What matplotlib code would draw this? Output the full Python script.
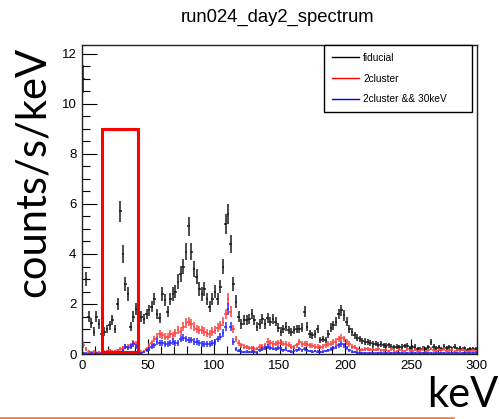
import numpy as np
import matplotlib
matplotlib.use("Agg")
import matplotlib.pyplot as plt
from matplotlib.patches import Rectangle
from matplotlib.lines import Line2D

# ---------------- data (2 keV bins, 0-300 keV) ----------------
bin_width = 2.0
kev = np.arange(1, 300, 2)  # bin centers

fiducial = [
    11.0, 3.0, 1.5, 1.25, 0.9, 1.5, 1.2, 0.8, 0.9, 1.0,
    1.15, 1.35, 1.0, 2.0, 5.7, 4.0, 2.8, 2.4, 1.1, 1.5,
    1.8, 1.55, 1.5, 1.4, 1.6, 1.75, 1.9, 2.2, 1.6, 1.45,
    2.4, 2.15, 1.7, 2.2, 2.4, 2.5, 2.9, 3.2, 3.5, 4.1,
    5.1, 4.1, 3.4, 3.1, 2.6, 2.4, 2.6, 2.2, 1.9, 2.2,
    2.5, 2.2, 2.7, 3.5, 5.2, 5.6, 4.4, 2.8, 2.1, 1.5,
    1.2, 1.35, 1.35, 1.4, 1.6, 1.35, 1.1, 1.2, 1.4, 1.2,
    1.45, 1.3, 1.4, 1.3, 1.05, 0.9, 1.0, 1.1, 0.95, 0.88,
    0.95, 1.0, 1.0, 1.05, 1.7, 1.1, 0.8, 0.75, 0.8, 1.0,
    0.55, 0.6, 0.55, 0.8, 1.05, 1.15, 1.3, 1.6, 1.75, 1.55,
    1.3, 1.0, 0.88, 0.75, 0.65, 0.6, 0.53, 0.5, 0.47, 0.45,
    0.4, 0.42, 0.38, 0.4, 0.35, 0.33, 0.35, 0.3, 0.27, 0.3,
    0.27, 0.3, 0.32, 0.33, 0.25, 0.27, 0.3, 0.22, 0.2, 0.25,
    0.22, 0.27, 0.47, 0.3, 0.25, 0.27, 0.2, 0.3, 0.25, 0.27,
    0.22, 0.3, 0.2, 0.25, 0.2, 0.22, 0.18, 0.2, 0.22, 0.2,
]

cluster2 = [
    0.36, 0.2, 0.1, 0.08, 0.1, 0.06, 0.08, 0.05, 0.1, 0.12,
    0.15, 0.1, 0.12, 0.15, 0.2, 0.25, 0.3, 0.3, 0.35, 0.45,
    0.4, 0.15, 0.1, 0.12, 0.2, 0.35, 0.45, 0.6, 0.7, 0.8,
    0.75, 0.7, 0.7, 0.8, 0.75, 0.85, 0.95, 0.9, 1.1, 1.25,
    1.3, 1.2, 1.1, 1.0, 0.95, 0.95, 0.9, 0.85, 0.8, 0.9,
    0.95, 1.05, 1.15, 1.3, 1.6, 2.2, 1.7, 1.0, 0.6, 0.45,
    0.35, 0.3, 0.28, 0.25, 0.25, 0.2, 0.22, 0.3, 0.3, 0.35,
    0.5, 0.45, 0.4, 0.42, 0.45, 0.47, 0.42, 0.4, 0.38, 0.3,
    0.27, 0.35, 0.47, 0.4, 0.42, 0.4, 0.35, 0.33, 0.3, 0.3,
    0.27, 0.3, 0.35, 0.4, 0.42, 0.47, 0.5, 0.6, 0.65, 0.6,
    0.47, 0.4, 0.3, 0.27, 0.2, 0.15, 0.18, 0.2, 0.2, 0.18,
    0.2, 0.18, 0.2, 0.15, 0.15, 0.18, 0.12, 0.2, 0.15, 0.1,
    0.18, 0.15, 0.12, 0.2, 0.15, 0.13, 0.18, 0.12, 0.15, 0.2,
    0.1, 0.15, 0.22, 0.15, 0.12, 0.18, 0.15, 0.2, 0.12, 0.15,
    0.18, 0.1, 0.15, 0.12, 0.18, 0.15, 0.1, 0.12, 0.15, 0.12,
]

cluster2_30kev = [
    0.05, 0.03, 0.02, 0.03, 0.02, 0.03, 0.02, 0.03, 0.04, 0.05,
    0.05, 0.04, 0.05, 0.06, 0.08, 0.15, 0.3, 0.25, 0.3, 0.4,
    0.3, 0.08, 0.05, 0.08, 0.15, 0.2, 0.3, 0.35, 0.5, 0.45,
    0.45, 0.4, 0.4, 0.45, 0.5, 0.45, 0.45, 0.6, 0.65, 0.6,
    0.55, 0.55, 0.5, 0.5, 0.45, 0.4, 0.4, 0.4, 0.4, 0.45,
    0.47, 0.6, 0.7, 0.85, 1.1, 1.8, 1.1, 0.5, 0.2, 0.13,
    0.1, 0.08, 0.1, 0.07, 0.1, 0.08, 0.06, 0.15, 0.2, 0.25,
    0.3, 0.25, 0.22, 0.2, 0.25, 0.2, 0.15, 0.2, 0.12, 0.1,
    0.12, 0.15, 0.2, 0.15, 0.2, 0.15, 0.12, 0.1, 0.12, 0.1,
    0.08, 0.1, 0.12, 0.15, 0.2, 0.25, 0.28, 0.35, 0.4, 0.35,
    0.25, 0.15, 0.1, 0.08, 0.06, 0.05, 0.04, 0.05, 0.03, 0.04,
    0.05, 0.03, 0.04, 0.05, 0.03, 0.04, 0.03, 0.05, 0.04, 0.03,
    0.04, 0.05, 0.03, 0.04, 0.03, 0.05, 0.04, 0.03, 0.04, 0.05,
    0.03, 0.04, 0.05, 0.03, 0.04, 0.03, 0.05, 0.04, 0.03, 0.04,
    0.05, 0.03, 0.04, 0.03, 0.05, 0.04, 0.03, 0.04, 0.05, 0.04,
]

series_labels = ["fiducial", "2cluster", "2cluster && 30keV"]
series_colors = ["black", "red", "blue"]
series_err_colors = ["#1a1a1a", "#ff4040", "#2a2aff"]

# highlighted region (keV range, rate)
box_x = [14.9, 42.3]
box_y = [0.09, 9.01]

title = "run024_day2_spectrum"
ylabel = "counts/s/keV"
xlabel = "keV"

# ---------------- figure ----------------
W, H = 499, 419
fig = plt.figure(figsize=(W / 100, H / 100), dpi=100)
fig.patch.set_facecolor("white")

L, R, B, T = 82, 477, 354, 45
ax = fig.add_axes([L / W, 1 - B / H, (R - L) / W, (B - T) / H])

tick_font = "Liberation Sans"
for vals, col, ecol in zip([fiducial, cluster2, cluster2_30kev], series_colors, series_err_colors):
    v = np.asarray(vals)
    err = 0.17 * np.sqrt(v)  # statistical (Poisson-like) error scale
    ax.errorbar(kev, v, xerr=bin_width / 2, yerr=err, fmt="none",
                ecolor=ecol, elinewidth=1.1, capsize=0, zorder=2)

ax.add_patch(Rectangle((box_x[0], box_y[0]), box_x[1] - box_x[0], box_y[1] - box_y[0],
                       fill=False, edgecolor="#ff0000", linewidth=2.2, zorder=5))

ax.set_xlim(0, 300)
ax.set_ylim(0, 12.36)
ax.set_xticks([0, 50, 100, 150, 200, 250, 300])
ax.set_xticks(np.arange(0, 301, 10), minor=True)
ax.set_yticks([0, 2, 4, 6, 8, 10, 12])
ax.set_yticks(np.arange(0, 12.4, 0.5), minor=True)
ax.tick_params(axis="both", which="major", direction="in", length=11, width=0.8,
               labelsize=9.5, top=False, right=False, pad=4)
ax.tick_params(axis="both", which="minor", direction="in", length=5.5, width=0.8,
               top=False, right=False)
for lab in ax.get_xticklabels() + ax.get_yticklabels():
    lab.set_fontfamily(tick_font)
for s in ax.spines.values():
    s.set_linewidth(1.0)
    s.set_color("#222222")

handles = [Line2D([0], [0], color=c, lw=1.0) for c in series_colors]
leg = ax.legend(handles, series_labels, loc="upper left",
                bbox_to_anchor=(324.3 / W, 1 - 49 / H, (472.3 - 324.3) / W, 0.01),
                bbox_transform=fig.transFigure, mode="expand",
                prop={"family": tick_font, "size": 7.3}, frameon=True, fancybox=False,
                edgecolor="black", framealpha=1, borderaxespad=0,
                handlelength=2.6, handletextpad=0.45, labelspacing=1.05,
                borderpad=0.8)
leg.get_frame().set_linewidth(1.0)

fig.text(278 / W, 1 - 17 / H, title, ha="center", va="center",
         fontsize=13.3, family=tick_font)

big_font = "Lato"
yl = fig.text(33 / W, 1 - 172 / H, ylabel, rotation=90, ha="center", va="center",
              fontsize=30, family=big_font)
fig.canvas.draw()
bb = yl.get_window_extent()
fs = 30 * 250.0 / bb.height
yl.set_fontsize(fs)

fig.text(498 / W, 1 - 407 / H, xlabel, ha="right", va="baseline",
         fontsize=fs, family=big_font)

fig.add_artist(Line2D([0, 453 / W], [1 - 417.5 / H, 1 - 417.5 / H],
                      transform=fig.transFigure, color="#ED7D31", lw=1.8))

fig.savefig("out.png", dpi=100)
